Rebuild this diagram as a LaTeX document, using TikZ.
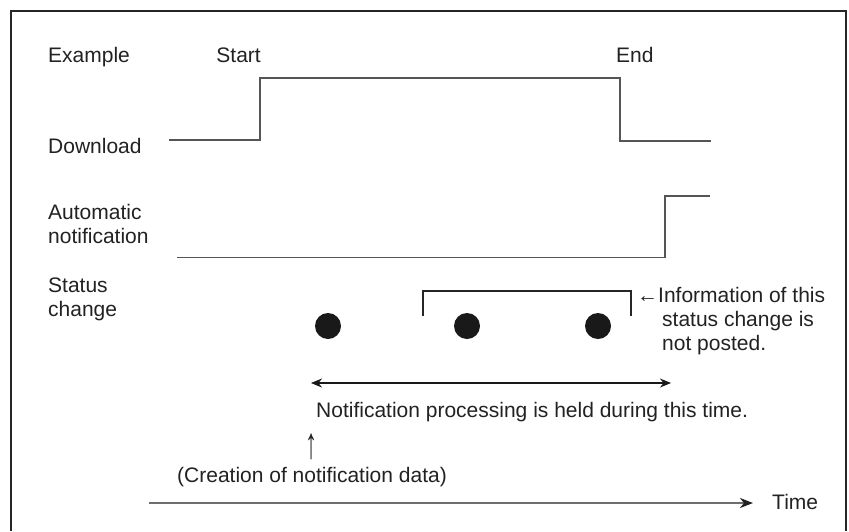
\documentclass[tikz,border=0pt]{standalone}
\usepackage{fontspec}
\setmainfont{Liberation Sans}
\usetikzlibrary{arrows.meta}
\definecolor{txt}{HTML}{222222}
\definecolor{wave}{HTML}{555555}
\definecolor{axis}{HTML}{6E6E6E}
\definecolor{tip}{HTML}{222222}
\begin{document}
\begin{tikzpicture}[x=1pt,y=-1pt,
  lbl/.style={anchor=base west,inner sep=0pt,text=txt,font=\fontsize{21}{24}\selectfont},
  wavel/.style={draw=wave,line width=1.2pt},
  dotm/.style={circle,fill=black!90,minimum size=26pt,inner sep=0pt},
  brk/.style={draw=black!85,line width=1.1pt},
  harrow/.style={draw=black!90,line width=1.3pt,{Stealth[length=11pt,width=9pt,inset=3.5pt]}-{Stealth[length=11pt,width=9pt,inset=3.5pt]}},
  taxis/.style={draw=axis,line width=2.2pt,-{Stealth[length=13pt,width=10pt,inset=4pt,color=tip,fill=tip]}}]
\useasboundingbox (0,0) rectangle (849,531);
\fill[white] (0,0) rectangle (849,531);
% frame
\draw[black!85,line width=2pt] (11,531) -- (11,11) -- (846,11) -- (846,531);
% labels
\node[lbl] (ex) at (48,62) {Example};
\node[lbl,anchor=base east] (st) at (261,62) {Start};
\node[lbl] (en) at (616,62) {End};
\node[lbl] (dl) at (48,153) {Download};
\node[lbl,align=left] (an) at (48,243) {Automatic\\notification};
\node[lbl,align=left] (sc) at (48,316) {Status\\change};
% waveforms
\draw[wavel] (169,140) -- (260,140) -- (260,78) -- (620,78) -- (620,141) -- (711,141);
\draw[wavel] (177,257.5) -- (665,257.5) -- (665,196) -- (710,196);
% dots
\node[dotm] (d1) at (328,326) {};
\node[dotm] (d2) at (467,326) {};
\node[dotm] (d3) at (598,326) {};
% bracket
\coordinate (bl) at (423,316);
\coordinate (br) at (631,316);
\draw[brk] (bl) -- (423,291) -- (631,291) -- (br);
% info text
\node[lbl] (i1) at (637,302) {←Information of this};
\node[lbl] (i2) at (662,326) {status change is};
\node[lbl] (i3) at (662,350) {not posted.};
% hold arrow
\coordinate (hl) at (311,383);
\coordinate (hr) at (671,383);
\draw[harrow] (hl) -- (hr);
\node[lbl] (np) at (316,417) {Notification processing is held during this time.};
\node[lbl,anchor=base] (up) at (312,458) {\scalebox{1.15}[2.1]{↑}};
\node[lbl] (cr) at (177,482) {(Creation of notification data)};
% time axis
\coordinate (t0) at (149,503);
\coordinate (t1) at (753,503);
\draw[taxis] (t0) -- (t1);
\node[lbl] (tm) at (772,509) {Time};
\end{tikzpicture}
\end{document}
